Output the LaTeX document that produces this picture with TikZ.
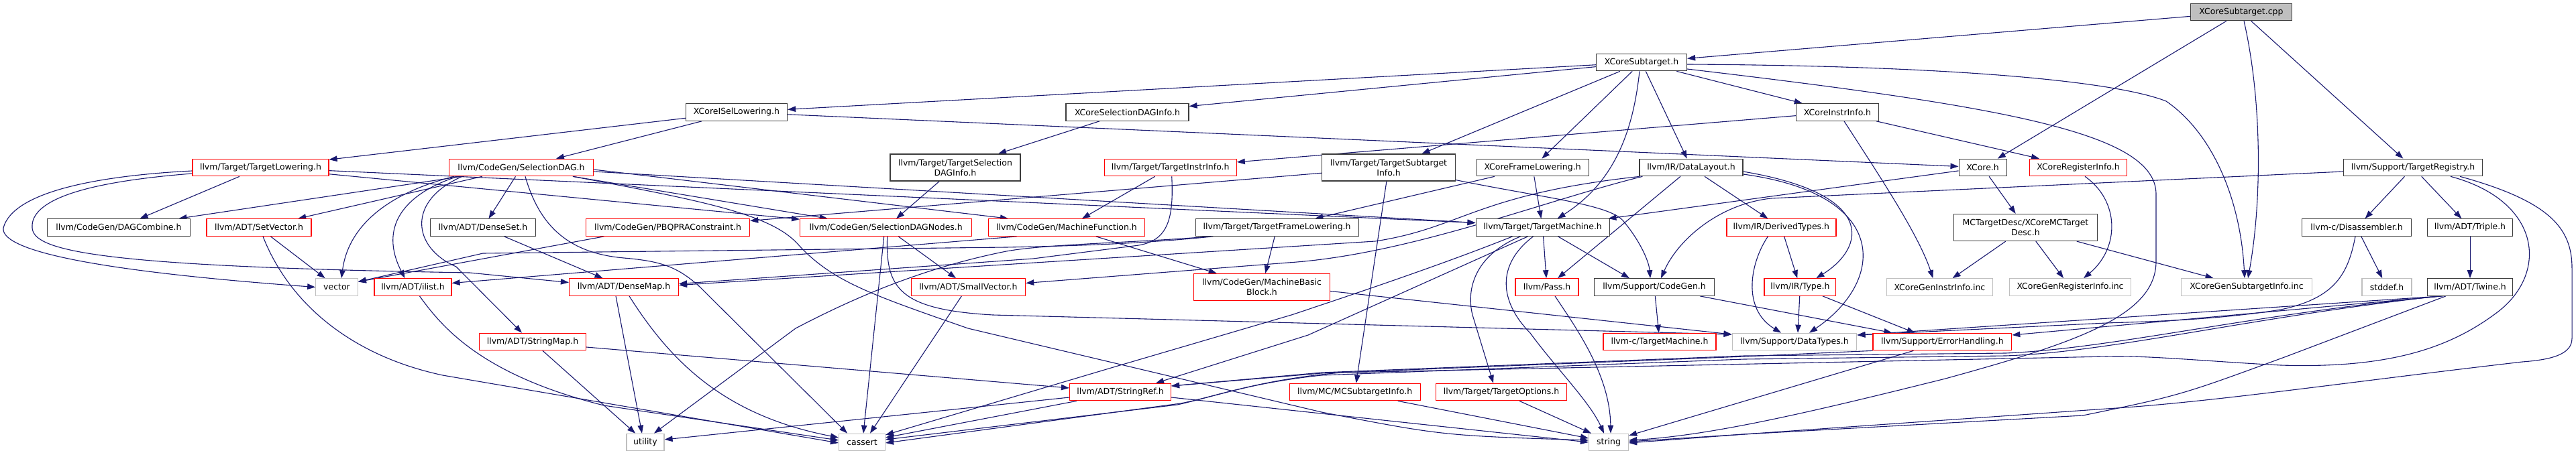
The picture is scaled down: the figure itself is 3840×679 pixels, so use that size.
\documentclass[tikz,border=0pt]{standalone}
\usepackage{fontspec}
\setmainfont{DejaVu Sans}
\usetikzlibrary{arrows.meta,backgrounds}
\definecolor{edgec}{RGB}{25,25,112}
\definecolor{grayb}{RGB}{191,191,191}
\definecolor{redb}{RGB}{255,0,0}
\definecolor{blkb}{RGB}{60,60,60}
\begin{document}
\begin{tikzpicture}[x=1pt,y=-1pt,
  nbox/.style={draw, line width=1.2pt, fill=white, inner sep=0pt, minimum height=25.5pt, align=center, font=\fontsize{12.5}{15}\selectfont, text=black},
  nblk/.style={nbox, draw=blkb},
  nred/.style={nbox, draw=redb},
  ngray/.style={nbox, draw=grayb},
  ncpp/.style={nbox, draw=blkb, fill=grayb},
  ntall/.style={minimum height=40pt},
  arr/.style={draw=edgec, line width=1.1pt, -{Triangle[length=12pt,width=8.5pt]}}]
\useasboundingbox (0,0) rectangle (3840,679);
% ---------------- nodes ----------------
\node[ncpp, minimum width=151pt] (cpp) at (3341,18) {XCoreSubtarget.cpp};
\node[nblk, minimum width=135pt] (sub) at (2447,93) {XCoreSubtarget.h};
\node[nblk, minimum width=151pt] (isel) at (1098,167.5) {XCoreISelLowering.h};
\node[nblk, minimum width=183pt] (sdi) at (1680.5,167.5) {XCoreSelectionDAGInfo.h};
\node[nblk, minimum width=123pt] (xii) at (2739,167.5) {XCoreInstrInfo.h};
\node[nred, minimum width=203pt] (tlow) at (388.5,250) {llvm/Target/TargetLowering.h};
\node[nred, minimum width=215pt] (sdag) at (777,250) {llvm/CodeGen/SelectionDAG.h};
\node[nblk, ntall, minimum width=194pt] (tsdi) at (1424,250) {llvm/Target/TargetSelection\\DAGInfo.h};
\node[nred, minimum width=197pt] (tii) at (1744.7,250) {llvm/Target/TargetInstrInfo.h};
\node[nblk, ntall, minimum width=199pt] (tsi) at (2070,250) {llvm/Target/TargetSubtarget\\Info.h};
\node[nblk, minimum width=167pt] (xfl) at (2284.6,250) {XCoreFrameLowering.h};
\node[nblk, minimum width=154pt] (dl) at (2521,250) {llvm/IR/DataLayout.h};
\node[nblk, minimum width=71pt] (xcore) at (2955.6,250) {XCore.h};
\node[nred, minimum width=145pt] (xri) at (3098,250) {XCoreRegisterInfo.h};
\node[nblk, minimum width=207pt] (treg) at (3597,250) {llvm/Support/TargetRegistry.h};
\node[nblk, minimum width=213pt] (dagc) at (177,339.5) {llvm/CodeGen/DAGCombine.h};
\node[nred, minimum width=156pt] (setv) at (386,339.5) {llvm/ADT/SetVector.h};
\node[nblk, minimum width=157.5pt] (dset) at (720,339.5) {llvm/ADT/DenseSet.h};
\node[nred, minimum width=244pt] (pbqp) at (995.6,339.5) {llvm/CodeGen/PBQPRAConstraint.h};
\node[nred, minimum width=256pt] (sdn) at (1320.7,339.5) {llvm/CodeGen/SelectionDAGNodes.h};
\node[nred, minimum width=233.5pt] (mf) at (1590,339.5) {llvm/CodeGen/MachineFunction.h};
\node[nblk, minimum width=243pt] (tfl) at (1903.6,339.5) {llvm/Target/TargetFrameLowering.h};
\node[nblk, minimum width=199pt] (tm) at (2299.6,339.5) {llvm/Target/TargetMachine.h};
\node[nred, minimum width=163pt] (dty) at (2655.4,339.5) {llvm/IR/DerivedTypes.h};
\node[nblk, ntall, minimum width=213.4pt] (mctd) at (3019.4,339.5) {MCTargetDesc/XCoreMCTarget\\Desc.h};
\node[nblk, minimum width=163pt] (dis) at (3513,339.5) {llvm-c/Disassembler.h};
\node[nblk, minimum width=127pt] (triple) at (3682,339.5) {llvm/ADT/Triple.h};
\node[ngray, minimum width=62.5pt] (vec) at (502,428.5) {vector};
\node[nred, minimum width=115pt] (ilist) at (615.5,428.5) {llvm/ADT/ilist.h};
\node[nred, minimum width=163pt] (dmap) at (930,428.5) {llvm/ADT/DenseMap.h};
\node[nred, minimum width=170.5pt] (svec) at (1443.4,428.5) {llvm/ADT/SmallVector.h};
\node[nred, ntall, minimum width=203pt] (mbb) at (1881,428.5) {llvm/CodeGen/MachineBasic\\Block.h};
\node[nred, minimum width=94pt] (pass) at (2306,428.5) {llvm/Pass.h};
\node[nblk, minimum width=179.5pt] (cg) at (2466,428.5) {llvm/Support/CodeGen.h};
\node[nred, minimum width=106.7pt] (type) at (2683.4,428.5) {llvm/IR/Type.h};
\node[ngray, minimum width=158.5pt] (gii) at (2891.4,428.5) {XCoreGenInstrInfo.inc};
\node[ngray, minimum width=181.7pt] (gri) at (3086,428.5) {XCoreGenRegisterInfo.inc};
\node[ngray, minimum width=194.6pt] (gsi) at (3349,428.5) {XCoreGenSubtargetInfo.inc};
\node[ngray, minimum width=74pt] (stddef) at (3558,428.5) {stddef.h};
\node[nblk, minimum width=127pt] (twine) at (3682,428.5) {llvm/ADT/Twine.h};
\node[nred, minimum width=159pt] (smap) at (794,510) {llvm/ADT/StringMap.h};
\node[nred, minimum width=168pt] (ctm) at (2474,510) {llvm-c/TargetMachine.h};
\node[ngray, minimum width=185.7pt] (dtypes) at (2675,510) {llvm/Support/DataTypes.h};
\node[nred, minimum width=206.7pt] (eh) at (2895.4,510) {llvm/Support/ErrorHandling.h};
\node[nred, minimum width=151pt] (sref) at (1670,585) {llvm/ADT/StringRef.h};
\node[nred, minimum width=195pt] (mcsi) at (2019.6,585) {llvm/MC/MCSubtargetInfo.h};
\node[nred, minimum width=195pt] (topt) at (2238,585) {llvm/Target/TargetOptions.h};
\node[ngray, minimum width=56pt] (util) at (962,660) {utility};
\node[ngray, minimum width=69pt] (cassert) at (1285,660) {cassert};
\node[ngray, minimum width=59pt] (string) at (2398,660) {string};
% ---------------- edges ----------------
\begin{scope}[on background layer]
\fill[white] (0,0) rectangle (3840,679);
% cpp
\draw[arr] (cpp) -- (sub);
\draw[arr] (cpp) -- (xcore);
\draw[arr] ([xshift=4pt]cpp.south) .. controls (3372,150) and (3372,300) .. ([xshift=2pt]gsi.north);
\draw[arr] (cpp) -- (treg);
% sub
\draw[arr] (sub) -- (isel);
\draw[arr] (sub) -- (sdi);
\draw[arr] (sub) -- (tsi);
\draw[arr] (sub) -- (xfl);
\draw[arr] ([xshift=-3pt]sub.south) .. controls (2435,190) and (2410,270) .. ([xshift=22pt]tm.north);
\draw[arr] (sub) -- (dl);
\draw[arr] (sub) -- (xii);
\draw[arr] ([yshift=-3pt]sub.east) .. controls (2900,98) and (3150,120) .. (3229,151) .. controls (3300,200) and (3340,300) .. ([xshift=-3pt]gsi.north);
\draw[arr] ([yshift=-10pt]sub.east) .. controls (3000,160) and (3214,200) .. (3214,290) -- (3214,390) .. controls (3214,470) and (3100,510) .. (2900,565) .. controls (2700,615) and (2550,650) .. ([yshift=3pt]string.east);
% isel
\draw[arr] (isel) -- (tlow);
\draw[arr] (isel) -- (sdag);
\draw[arr] (isel) -- (xcore);
% sdi
\draw[arr] (sdi) -- (tsdi);
% xii
\draw[arr] (xii) -- (tii);
\draw[arr] (xii) -- (xri);
\draw[arr] ([xshift=10pt]xii.south) .. controls (2800,260) and (2860,350) .. ([xshift=-10pt]gii.north);
% tlow
\draw[arr] ([yshift=-5pt]tlow.west) .. controls (150,262) and (20,285) .. (5,340) .. controls (0,375) and (150,405) .. (vec.west);
\draw[arr] ([yshift=-9pt]tlow.west) .. controls (120,272) and (45,300) .. (48,340) .. controls (50,375) and (150,398) .. (700,407) -- ([yshift=7pt]dmap.west);
\draw[arr] (tlow) -- (dagc);
\draw[arr] (tlow) -- (sdn);
\draw[arr] (tlow) -- ([yshift=7pt]tm.west);
% sdag
\draw[arr] (sdag) -- (dset);
\draw[arr] (sdag) -- (setv);
\draw[arr] (sdag) -- (dagc);
\draw[arr] ([xshift=-95pt]sdag.south) .. controls (600,290) and (565,340) .. ([xshift=-12pt]ilist.north);
\draw[arr] ([xshift=-100pt]sdag.south) .. controls (590,285) and (520,330) .. ([xshift=7pt]vec.north);
\draw[arr] ([xshift=-88pt]sdag.south) .. controls (605,300) and (615,370) .. (680,398) -- ([xshift=-16pt]smap.north);
\draw[arr] ([xshift=6pt]sdag.south) .. controls (805,340) and (850,378) .. (930,385) .. controls (990,390) and (1010,400) .. (1040,425) -- ([xshift=-22pt]cassert.north);
\draw[arr] ([xshift=77pt]sdag.south) .. controls (1050,300) and (1150,320) .. (1190,365) .. controls (1240,420) and (1300,440) .. (1443,490) -- (1970,615) .. controls (2150,650) .. ([yshift=3pt]string.west);
\draw[arr] ([xshift=77pt]sdag.south) -- ([xshift=-87pt]sdn.north);
\draw[arr] ([yshift=-3pt]sdag.east) -- ([xshift=-87pt]mf.north);
\draw[arr] ([yshift=-6pt]sdag.east) -- ([yshift=7pt]tm.west);
% tsdi
\draw[arr] (tsdi) -- (sdn);
% tii
\draw[arr] (tii) -- (mf);
\draw[arr] ([xshift=2pt]tii.south) .. controls (1750,330) and (1740,362) .. (1690,367) -- (1540,386) -- ([yshift=5pt]dmap.east);
% tsi
\draw[arr] (tsi) -- (pbqp);
\draw[arr] (tsi) -- (mcsi);
\draw[arr] ([yshift=2pt]tsi.south east) .. controls (2300,295) and (2400,305) .. (2420,330) .. controls (2445,360) and (2458,390) .. ([xshift=-6pt]cg.north);
% xfl
\draw[arr] (xfl) -- (tfl);
\draw[arr] (xfl) -- (tm);
% dl
\draw[arr] ([xshift=1pt]dl.south west) .. controls (2200,290) and (2180,340) .. (2050,360) -- ([yshift=3pt]dmap.east);
\draw[arr] ([xshift=5pt]dl.south west) .. controls (2300,300) and (2100,380) .. (1920,392) -- ([yshift=6pt]svec.east);
\draw[arr] (dl) -- (pass);
\draw[arr] (dl) -- (dty);
\draw[arr] ([yshift=-6pt]dl.east) .. controls (2800,290) and (2780,370) .. ([xshift=24pt]type.north);
\draw[arr] ([yshift=-10pt]dl.east) .. controls (2820,290) and (2810,420) .. ([xshift=22pt]dtypes.north);
% xcore
\draw[arr] (xcore) -- (mctd);
\draw[arr] (xcore) -- (tm);
% xri
\draw[arr] ([xshift=10pt]xri.south) .. controls (3160,300) and (3160,370) .. ([xshift=20pt]gri.north);
% treg
\draw[arr] (treg) -- (dis);
\draw[arr] (treg) -- (triple);
\draw[arr] ([yshift=-6pt]treg.west) -- (2640,296) .. controls (2560,305) and (2500,360) .. ([xshift=10pt]cg.north);
\draw[arr] ([xshift=56pt]treg.south) .. controls (3790,300) and (3800,410) .. (3720,468) .. controls (3650,520) and (3560,550) .. (3400,545) .. controls (3300,540) and (3200,530) .. (3140,532) -- (2000,556) .. controls (1880,566) and (1820,590) .. (1760,602) -- ([yshift=-1pt]cassert.east);
\draw[arr] ([xshift=70pt]treg.south) .. controls (3800,300) and (3834,340) .. (3834,400) -- (3834,505) .. controls (3834,530) and (3800,537) .. (3760,540) .. controls (3500,570) and (3300,600) .. (3140,610) -- (2600,648) -- ([yshift=-1pt]string.east);
% setv
\draw[arr] (setv) -- (vec);
\draw[arr] ([xshift=6pt]setv.south) .. controls (430,450) and (520,530) .. (660,560) -- ([yshift=-1pt]cassert.west);
% ilist
\draw[arr] ([xshift=10pt]ilist.south) .. controls (660,490) and (720,560) .. (900,605) -- ([yshift=3pt]cassert.west);
% dset
\draw[arr] (dset) -- (dmap);
% pbqp
\draw[arr] ([xshift=-95pt]pbqp.south) -- ([yshift=8pt]vec.east);
% sdn
\draw[arr] (sdn) -- (svec);
\draw[arr] ([xshift=-3pt]sdn.south) -- ([xshift=2pt]cassert.north);
\draw[arr] ([xshift=2pt]sdn.south) .. controls (1320,430) and (1340,462) .. (1480,470) -- ([yshift=11pt]dtypes.west);
% mf
\draw[arr] (mf) -- (mbb);
\draw[arr] ([xshift=-74pt]mf.south) -- ([yshift=6pt]ilist.east);
% tfl
\draw[arr] (tfl) -- (mbb);
\draw[arr] ([xshift=-95pt]tfl.south) .. controls (1700,364) and (1600,367) .. (1500,369) -- (720,378) -- ([yshift=8pt]vec.east);
\draw[arr] ([xshift=-100pt]tfl.south) .. controls (1700,362) and (1560,364) .. (1500,375) .. controls (1400,395) and (1300,430) .. (1186,490) -- ([xshift=13pt]util.north);
% tm
\draw[arr] ([xshift=-45pt]tm.south) .. controls (2150,395) and (2000,445) .. (1925,470) -- (1663,547) -- ([yshift=11pt]cassert.east);
\draw[arr] ([xshift=-33pt]tm.south) .. controls (2200,380) and (2185,430) .. (2195,470) -- ([xshift=-12pt]topt.north);
\draw[arr] ([xshift=-22pt]tm.south) -- (1950,500) -- ([xshift=53pt]sref.north);
\draw[arr] ([xshift=-14pt]tm.south) .. controls (2230,395) and (2235,450) .. (2281,497) .. controls (2320,550) and (2370,600) .. ([xshift=-7pt]string.north);
\draw[arr] (tm) -- (pass);
\draw[arr] (tm) -- ([xshift=-37pt]cg.north);
% dty
\draw[arr] (dty) -- (type);
\draw[arr] ([xshift=-20pt]dty.south) .. controls (2610,390) and (2595,460) .. ([xshift=-20pt]dtypes.north);
% mctd
\draw[arr] (mctd) -- (gii);
\draw[arr] (mctd) -- (gri);
\draw[arr] (mctd) -- (gsi);
% dis
\draw[arr] (dis) -- (stddef);
\draw[arr] ([xshift=-2pt]dis.south) .. controls (3500,410) and (3480,445) .. (3400,462) .. controls (3300,478) and (3200,480) .. (3140,482) -- ([yshift=10pt]dtypes.east);
% triple
\draw[arr] (triple) -- (twine);
% twine
\draw[arr] ([xshift=-40pt]twine.south) -- ([yshift=10pt]eh.east);
\draw[arr] ([xshift=-42pt]twine.south) -- ([yshift=10pt]dtypes.east);
\draw[arr] ([xshift=-44pt]twine.south) .. controls (3350,470) and (3150,520) .. (2990,527) -- (2600,531) -- (1970,556) -- ([yshift=9pt]sref.east);
\draw[arr] ([xshift=-46pt]twine.south) .. controls (3350,474) and (3150,525) .. (2990,531) -- (2600,536) -- (1970,560) .. controls (1860,572) and (1810,592) .. (1755,604) -- ([yshift=4pt]cassert.east);
\draw[arr] ([xshift=-36pt]twine.south) -- (3408,532) .. controls (3250,590) .. (3105,620) -- (2600,648) -- ([yshift=1pt]string.east);
% sref
\draw[arr] ([yshift=-8pt]sref.west) -- ([yshift=4pt]util.east);
\draw[arr] ([xshift=-65pt]sref.south) -- ([yshift=7pt]cassert.east);
\draw[arr] ([yshift=-8pt]sref.east) -- (string.west);
% smap
\draw[arr] (smap) -- (util);
\draw[arr] ([yshift=-8pt]smap.east) -- ([yshift=6pt]sref.west);
% dmap
\draw[arr] ([xshift=-12pt]dmap.south) -- ([xshift=-5pt]util.north);
\draw[arr] ([xshift=8pt]dmap.south) .. controls (1000,540) and (1080,620) .. ([yshift=7pt]cassert.west);
% svec
\draw[arr] ([xshift=-10pt]svec.south) -- ([xshift=12pt]cassert.north);
% mbb
\draw[arr] ([yshift=-6pt]mbb.east) -- ([yshift=11pt]dtypes.west);
% pass
\draw[arr] ([xshift=12pt]pass.south) .. controls (2350,490) and (2400,560) .. ([xshift=3pt]string.north);
% cg
\draw[arr] (cg) -- (ctm);
\draw[arr] ([xshift=68pt]cg.south) -- ([xshift=-75pt]eh.north);
% type
\draw[arr] (type) -- ([xshift=5pt]dtypes.north);
\draw[arr] (type) -- ([xshift=-41pt]eh.north);
% eh
\draw[arr] ([xshift=-43pt]eh.south) -- ([yshift=10pt]string.east);
\draw[arr] (eh.south west) -- (2600,532) -- (1970,557) -- ([yshift=9pt]sref.east);
% mcsi
\draw[arr] ([xshift=64pt]mcsi.south) -- ([yshift=6pt]string.west);
% topt
\draw[arr] ([xshift=27pt]topt.south) -- ([xshift=-26pt]string.north);
\end{scope}
\end{tikzpicture}
\end{document}
